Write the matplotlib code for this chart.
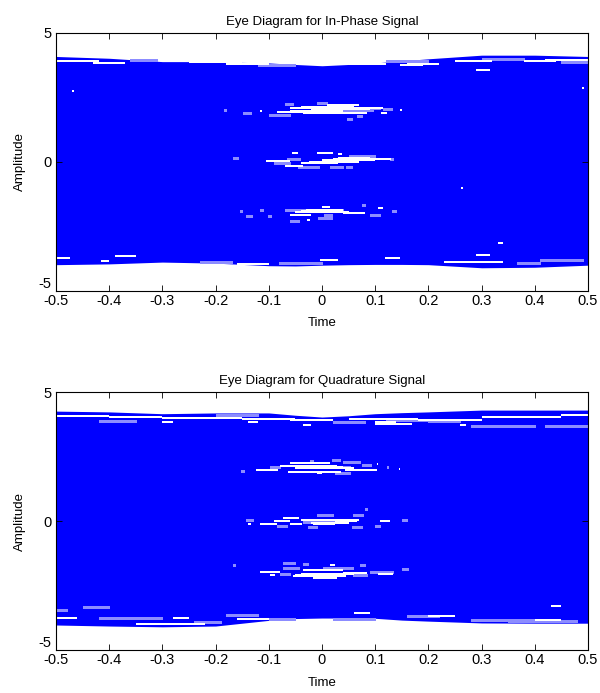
"""
Eye diagrams for the in-phase and quadrature signals (MATLAB-style look).
"""

import numpy as np
import matplotlib.pyplot as plt

plt.rcParams["font.family"] = ["Liberation Sans", "DejaVu Sans"]

#  Envelope of the traces 
env_t = [-0.5, -0.4, -0.3, -0.2, -0.15, -0.1, -0.05, 0.0, 0.05, 0.1, 0.15, 0.2, 0.3, 0.4, 0.5]

i_upper = [4.09, 4.02, 3.89, 3.89, 3.86, 3.84, 3.78, 3.73, 3.78, 3.84, 3.92, 4.00, 4.14, 4.14, 4.09]
i_lower = [-3.98, -3.95, -3.88, -3.92, -3.97, -4.02, -4.03, -4.00, -3.98, -3.97, -3.97, -3.98, -4.10, -4.08, -4.00]

q_upper = [4.26, 4.23, 4.16, 4.19, 4.19, 4.19, 4.10, 4.03, 4.08, 4.16, 4.20, 4.23, 4.30, 4.30, 4.30]
q_lower = [-4.03, -4.07, -4.10, -4.07, -3.96, -3.85, -3.78, -3.76, -3.76, -3.77, -3.84, -3.88, -3.95, -3.96, -3.96]

#  Gaps in the traces: (t start, t end, amplitude) 
# white = open gaps, light = partly covered gaps
i_white = [
    # upper edge
    (-0.50, -0.42, 3.92), (-0.43, -0.37, 3.82), (-0.25, -0.15, 3.86), (-0.18, -0.10, 3.80),
    (0.05, 0.12, 3.80), (0.16, 0.22, 3.78), (0.25, 0.32, 3.92), (0.38, 0.44, 3.90),
    (0.42, 0.50, 3.97), (0.29, 0.315, 3.57), (0.147, 0.19, 3.75), (0.488, 0.492, 2.88),
    (-0.470, -0.466, 2.74),
    # lower edge
    (-0.50, -0.474, -3.74), (-0.39, -0.35, -3.64), (-0.415, -0.40, -3.82),
    (-0.004, 0.03, -3.81), (0.118, 0.147, -3.74), (0.29, 0.315, -3.59), (0.23, 0.34, -3.87),
    (0.33, 0.34, -3.13), (-0.16, -0.10, -3.95), (0.261, 0.265, -1.0),
    # eye at +2
    (-0.06, 0.115, 2.10), (-0.085, 0.03, 1.95), (-0.035, 0.085, 1.91), (0.01, 0.07, 2.20),
    (-0.02, 0.09, 2.05), (-0.06, 0.04, 1.99), (-0.04, 0.06, 2.14),
    (0.11, 0.122, 1.90), (-0.117, -0.113, 1.97), (0.147, 0.150, 2.00),
    # eye at 0
    (0.02, 0.13, 0.12), (-0.025, 0.07, 0.00), (-0.105, -0.06, 0.05), (-0.07, -0.035, -0.17),
    (0.0, 0.10, 0.07), (-0.04, 0.03, -0.05), (0.03, 0.09, 0.15),
    (-0.01, 0.02, 0.35), (-0.057, -0.045, 0.36), (0.031, 0.037, 0.30),
    # eye at -2
    (-0.04, 0.01, -1.91), (0.04, 0.08, -1.97), (0.0, 0.015, -1.74), (0.106, 0.115, -1.80),
    (-0.05, 0.05, -1.95), (-0.03, 0.04, -1.88), (-0.029, -0.023, -2.26), (-0.06, -0.02, -2.05),
]
i_light = [
    (-0.36, -0.31, 3.95), (-0.12, -0.05, 3.77), (0.12, 0.20, 3.92), (0.30, 0.38, 3.98),
    (0.45, 0.50, 3.86), (-0.23, -0.17, -3.87), (0.366, 0.41, -3.92), (0.41, 0.49, -3.80),
    (-0.08, 0.0, -3.93),
    (-0.01, 0.01, 2.30), (-0.07, -0.055, 2.24), (-0.148, -0.133, 1.88), (-0.10, -0.06, 1.84),
    (0.04, 0.095, 2.00), (0.065, 0.075, 1.80), (0.047, 0.056, 1.65), (0.08, 0.109, 2.10),
    (0.115, 0.131, 2.06), (-0.185, -0.180, 2.03),
    (-0.066, -0.041, 0.13), (0.05, 0.10, 0.22), (-0.045, -0.005, -0.20), (0.015, 0.04, -0.20),
    (0.046, 0.056, -0.20), (-0.167, -0.157, 0.16), (0.128, 0.134, 0.12), (-0.091, -0.060, -0.02),
    (-0.07, 0.04, -1.85), (0.075, 0.081, -1.68), (-0.142, -0.132, -2.10), (-0.101, -0.095, -2.10),
    (0.004, 0.018, -2.05), (-0.060, -0.044, -2.30), (-0.007, 0.018, -2.17), (0.090, 0.109, -2.06),
    (0.131, 0.140, -1.91), (-0.117, -0.110, -1.86), (-0.154, -0.150, -1.91),
]

q_white = [
    # upper edge
    (-0.50, -0.40, 4.08), (-0.40, -0.30, 4.02), (-0.30, -0.15, 3.98), (-0.15, -0.05, 3.95),
    (-0.06, 0.02, 3.90), (0.05, 0.18, 3.97), (0.18, 0.30, 3.92), (0.30, 0.45, 4.05),
    (0.45, 0.50, 4.12), (-0.14, -0.12, 3.82), (0.10, 0.17, 3.75), (-0.30, -0.28, 3.82),
    (-0.035, -0.02, 3.72), (0.10, 0.14, 3.85), (0.26, 0.27, 3.73),
    # lower edge
    (-0.50, -0.46, -3.75), (-0.28, -0.25, -3.75), (-0.16, -0.10, -3.78), (0.06, 0.09, -3.55),
    (0.20, 0.25, -3.70), (0.43, 0.45, -3.30), (-0.35, -0.22, -4.00), (0.40, 0.45, -3.85),
    # eye at +2
    (-0.079, 0.028, 2.15), (-0.06, 0.015, 2.24), (-0.124, -0.083, 1.97), (-0.063, 0.035, 1.90),
    (-0.05, 0.06, 2.05), (-0.03, 0.04, 2.10), (-0.01, 0.0, 1.85), (0.043, 0.103, 1.97),
    (0.103, 0.106, 2.20), (0.144, 0.147, 2.00),
    # eye at 0
    (-0.073, -0.044, 0.10), (0.024, 0.065, 0.00), (-0.091, -0.060, 0.00), (-0.117, -0.085, -0.11),
    (-0.060, -0.038, -0.11), (-0.016, 0.024, -0.11), (0.109, 0.128, 0.00), (-0.140, -0.134, -0.11),
    (0.02, 0.07, 0.04), (-0.04, 0.02, 0.05), (-0.02, 0.05, -0.06),
    # eye at -2
    (-0.035, 0.040, -1.90), (-0.054, 0.046, -2.13), (-0.016, 0.028, -2.20), (0.040, 0.084, -2.00),
    (-0.04, 0.06, -2.04), (-0.05, 0.03, -2.08), (-0.117, -0.079, -1.96), (0.106, 0.134, -2.05),
    (0.015, 0.024, -1.72), (-0.098, -0.088, -2.09),
]
q_light = [
    (-0.42, -0.35, 3.88), (-0.20, -0.12, 4.10), (0.02, 0.08, 3.82), (0.12, 0.20, 3.90),
    (0.28, 0.40, 3.70), (0.42, 0.50, 3.70), (0.20, 0.26, 3.88),
    (-0.50, -0.48, -3.45), (-0.45, -0.40, -3.35), (-0.42, -0.30, -3.75), (-0.18, -0.12, -3.65),
    (-0.10, -0.05, -3.80), (0.02, 0.10, -3.80), (0.16, 0.22, -3.70), (0.28, 0.40, -3.85),
    (0.35, 0.48, -3.88), (-0.24, -0.19, -3.93),
    (0.02, 0.053, 2.10), (-0.098, -0.079, 2.08), (0.040, 0.071, 2.30), (0.018, 0.034, 2.38),
    (-0.022, -0.016, 2.32), (0.075, 0.093, 2.18), (0.024, 0.053, 1.87), (-0.152, -0.146, 1.92),
    (0.122, 0.125, 2.10),
    (-0.010, 0.020, 0.23), (-0.035, 0.028, -0.03), (0.059, 0.078, 0.23), (-0.085, -0.066, -0.18),
    (-0.026, -0.010, -0.22), (0.056, 0.075, -0.22), (0.100, 0.109, -0.18), (-0.142, -0.129, 0.04),
    (0.150, 0.159, 0.04), (0.081, 0.084, 0.45),
    (-0.073, -0.044, -1.83), (0.002, 0.059, -1.83), (0.090, 0.134, -1.96), (-0.073, -0.050, -1.64),
    (-0.035, -0.026, -1.66), (0.071, 0.081, -1.70), (-0.079, -0.060, -2.05), (0.059, 0.084, -2.09),
    (0.150, 0.162, -1.86), (-0.167, -0.163, -1.70),
]

BLUE  = "#0000ff"
LIGHT = "#8c8cff"


def eye_panel(ax, upper, lower, white, light, title):
    ax.fill_between(env_t, lower, upper, color=BLUE, linewidth=0, antialiased=False)
    for t0, t1, y in light:
        ax.hlines(y, t0, t1, colors=LIGHT, linewidth=0.9, antialiased=False)
    for t0, t1, y in white:
        ax.hlines(y, t0, t1, colors="white", linewidth=1.1, antialiased=False)

    ax.set_xlim(-0.5, 0.5)
    ax.set_ylim(-5, 5)
    ax.set_xticks(np.arange(-0.5, 0.51, 0.1))
    ax.set_xticklabels(["-0.5", "-0.4", "-0.3", "-0.2", "-0.1", "0",
                        "0.1", "0.2", "0.3", "0.4", "0.5"])
    ax.set_yticks([-5, 0, 5])
    ax.set_yticklabels(["-5", "0", "5"])
    ax.get_yticklabels()[0].set_va("bottom")
    ax.tick_params(direction="in", top=True, right=True, length=4,
                   labelsize=10.5, width=0.6, pad=2)
    ax.tick_params(axis="y", pad=3)
    for s in ax.spines.values():
        s.set_linewidth(0.8)
    ax.set_title(title, fontsize=9.5, pad=6)
    ax.set_xlabel("Time", fontsize=9.5, labelpad=7)
    ax.set_ylabel("Amplitude", fontsize=9.5, labelpad=9)


fig = plt.figure(figsize=(6, 6.93), dpi=100)
ax1 = fig.add_axes([0.0933, 0.5801, 0.8867, 0.3723])
ax2 = fig.add_axes([0.0933, 0.0620, 0.8867, 0.3723])

eye_panel(ax1, i_upper, i_lower, i_white, i_light, "Eye Diagram for In-Phase Signal")
eye_panel(ax2, q_upper, q_lower, q_white, q_light, "Eye Diagram for Quadrature Signal")

plt.savefig("out.png", dpi=100)
